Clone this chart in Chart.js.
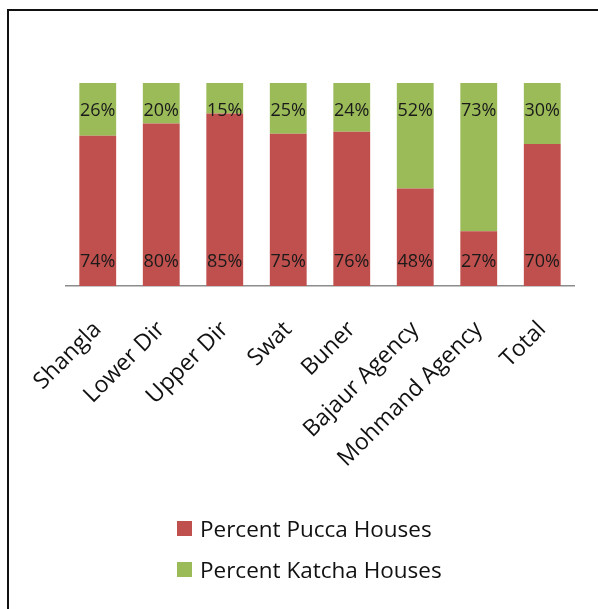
<!DOCTYPE html>
<html lang="en">

<head>
    <meta charset="UTF-8">
    <title>Pucca and Katcha Houses</title>
    <script src="https://cdn.jsdelivr.net/npm/chart.js"></script>
    <style>
        body {
            margin: 0;
            background: #fff;
            overflow: hidden;
        }

        #moldura {
            position: absolute;
            left: 7px;
            top: 9px;
            width: 700px;
            height: 700px;
            border: 2px solid #111;
        }

        #grafico {
            position: absolute;
            left: 0;
            top: 0;
        }

        #legenda {
            position: absolute;
            left: 177px;
            top: 508px;
            font-family: "Open Sans";
            font-size: 22.5px;
            color: #111;
        }

        .item {
            display: flex;
            align-items: center;
            height: 41px;
        }

        .caixa {
            width: 15px;
            height: 15px;
            margin-right: 8px;
        }
    </style>
</head>

<body>
    <div id="moldura"></div>
    <canvas id="grafico" width="598" height="609"></canvas>
    <div id="legenda"></div>

    <script>
        // dados
        const districts = ['Shangla', 'Lower Dir', 'Upper Dir', 'Swat', 'Buner', 'Bajaur Agency', 'Mohmand Agency', 'Total'];
        const puccaPercent = [74, 80, 85, 75, 76, 48, 27, 70];
        const katchaPercent = [26, 20, 15, 25, 24, 52, 73, 30];
        const seriesNames = ['Percent Pucca Houses', 'Percent Katcha Houses'];

        // rotulos de valor dentro das barras
        const rotulosBarras = {
            id: 'rotulosBarras',
            afterDatasetsDraw(chart) {
                const c = chart.ctx;
                c.save();
                c.font = '18px "Open Sans"';
                c.fillStyle = '#1a1a1a';
                c.textAlign = 'center';
                c.textBaseline = 'middle';
                chart.getDatasetMeta(0).data.forEach((bar, i) => {
                    c.fillText(chart.data.datasets[0].data[i] + '%', bar.x, bar.base - 24);
                });
                chart.getDatasetMeta(1).data.forEach((bar, i) => {
                    c.fillText(chart.data.datasets[1].data[i] + '%', bar.x, bar.y + 28);
                });
                c.restore();
            }
        };

        var grafico = new Chart(document.getElementById('grafico').getContext('2d'), {
            type: 'bar',
            data: {
                labels: districts,
                datasets: [{
                    label: seriesNames[0],
                    data: puccaPercent,
                    backgroundColor: '#C0504D',
                    barPercentage: 0.58,
                    categoryPercentage: 1
                },
                {
                    label: seriesNames[1],
                    data: katchaPercent,
                    backgroundColor: '#9BBB59',
                    barPercentage: 0.58,
                    categoryPercentage: 1
                }]
            },
            options: {
                responsive: false,
                animation: false,
                devicePixelRatio: 1,
                layout: {
                    padding: { left: 66, right: 24, top: 83, bottom: 0 }
                },
                plugins: {
                    legend: { display: false },
                    tooltip: { enabled: false }
                },
                scales: {
                    x: {
                        stacked: true,
                        grid: { display: false, drawTicks: false },
                        border: { display: true, color: '#8c8c8c', width: 1.5 },
                        ticks: {
                            color: '#111',
                            font: { family: 'Open Sans', size: 23 },
                            minRotation: 45,
                            maxRotation: 45,
                            autoSkip: false,
                            padding: 30
                        },
                        afterFit: (scale) => { scale.height = 323; }
                    },
                    y: {
                        stacked: true,
                        display: false,
                        min: 0,
                        max: 100
                    }
                }
            },
            plugins: [rotulosBarras]
        });

        // legenda vertical em html
        var legenda = document.getElementById('legenda');
        grafico.data.datasets.forEach((ds) => {
            legenda.innerHTML += `<div class="item"><span class="caixa" style="background:${ds.backgroundColor}"></span>${ds.label}</div>`;
        });
    </script>
</body>

</html>
